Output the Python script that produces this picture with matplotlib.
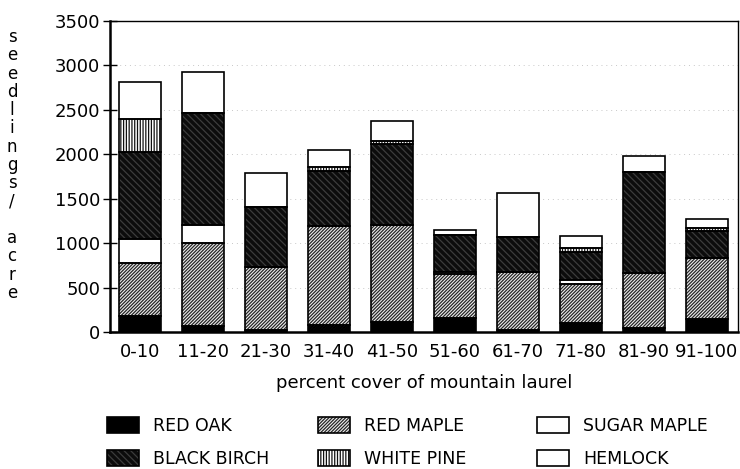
import matplotlib
matplotlib.use("Agg")
import matplotlib.pyplot as plt
import numpy as np
from matplotlib.legend_handler import HandlerTuple

plt.rcParams['font.family'] = ['DejaVu Sans']
plt.rcParams['hatch.linewidth'] = 0.9

categories = ["0-10", "11-20", "21-30", "31-40", "41-50",
              "51-60", "61-70", "71-80", "81-90", "91-100"]
red_oak     = [185, 70, 20, 80, 110, 160, 25, 100, 45, 150]
red_maple   = [590, 935, 708, 1112, 1094, 489, 654, 440, 615, 686]
hemlock     = [270, 199, 0, 0, 0, 30, 0, 45, 0, 0]
black_birch = [986, 1264, 682, 619, 911, 412, 394, 311, 1144, 300]
white_pine  = [364, 0, 0, 49, 34, 0, 0, 45, 0, 30]
sugar_maple = [423, 453, 375, 187, 225, 57, 495, 143, 180, 102]

series = [
    ("RED OAK", red_oak, "black", None, "black"),
    ("RED MAPLE", red_maple, "#eeeeee", "//////////", "#262626"),
    ("HEMLOCK", hemlock, "white", None, "white"),
    ("BLACK BIRCH", black_birch, "#0c0c0c", "\\\\\\\\\\", "#3c3c3c"),
    ("WHITE PINE", white_pine, "white", "||||||", "#111111"),
    ("SUGAR MAPLE", sugar_maple, "white", None, "white"),
]

fig = plt.figure(figsize=(7.40, 4.69), dpi=100)
ax = fig.add_axes([110/740, 1-332/469, 628/740, 311/469])

x = np.arange(len(categories))
w = 0.667
bottom = np.zeros(len(categories))
handles = {}
for name, vals, face, hatch, hcol in series:
    v = np.array(vals, dtype=float)
    b1 = ax.bar(x, v, w, bottom=bottom, color=face, hatch=hatch,
                edgecolor=hcol, linewidth=0, zorder=2)
    b2 = ax.bar(x, v, w, bottom=bottom, fill=False, edgecolor="black",
                linewidth=1.2, zorder=3)
    handles[name] = (b1, b2)
    bottom += v

ax.set_xlim(-0.476, 9.497)
ax.set_ylim(0, 3500)
ax.set_yticks(np.arange(0, 3501, 500))
ax.set_xticks(x)
ax.set_xticklabels(categories)
ax.tick_params(axis='y', direction='inout', length=10, width=1.0, pad=2, labelsize=13)
ax.tick_params(axis='x', length=0, pad=8, labelsize=13)
ax.yaxis.grid(True, linestyle=(0, (1, 4)), color='#c8c8c8', linewidth=0.7, zorder=0)
ax.set_axisbelow(True)
for s in ['left', 'bottom']:
    ax.spines[s].set_linewidth(1.8)
for s in ['top', 'right']:
    ax.spines[s].set_linewidth(1.0)

ax.set_xlabel("percent cover of mountain laurel", fontsize=13, labelpad=9)

fig.text(12/740, 1-165/469, "\n".join(list("seedlings/") + [""] + list("acre")),
         ha='center', va='center', fontsize=12, linespacing=1.02)

cols = [("RED OAK", "BLACK BIRCH", 107), ("RED MAPLE", "WHITE PINE", 318),
        ("SUGAR MAPLE", "HEMLOCK", 537)]
for a, b, px in cols:
    fig.legend([handles[a], handles[b]], [a, b],
               handler_map={tuple: HandlerTuple(ndivide=1, pad=0)},
               loc='upper left', bbox_to_anchor=(px/740, 1-417/469),
               frameon=False, borderpad=0, borderaxespad=0,
               handlelength=1.85, handleheight=1.05, handletextpad=0.8,
               labelspacing=0.85, fontsize=12.5)

fig.savefig("out.png", dpi=100)
